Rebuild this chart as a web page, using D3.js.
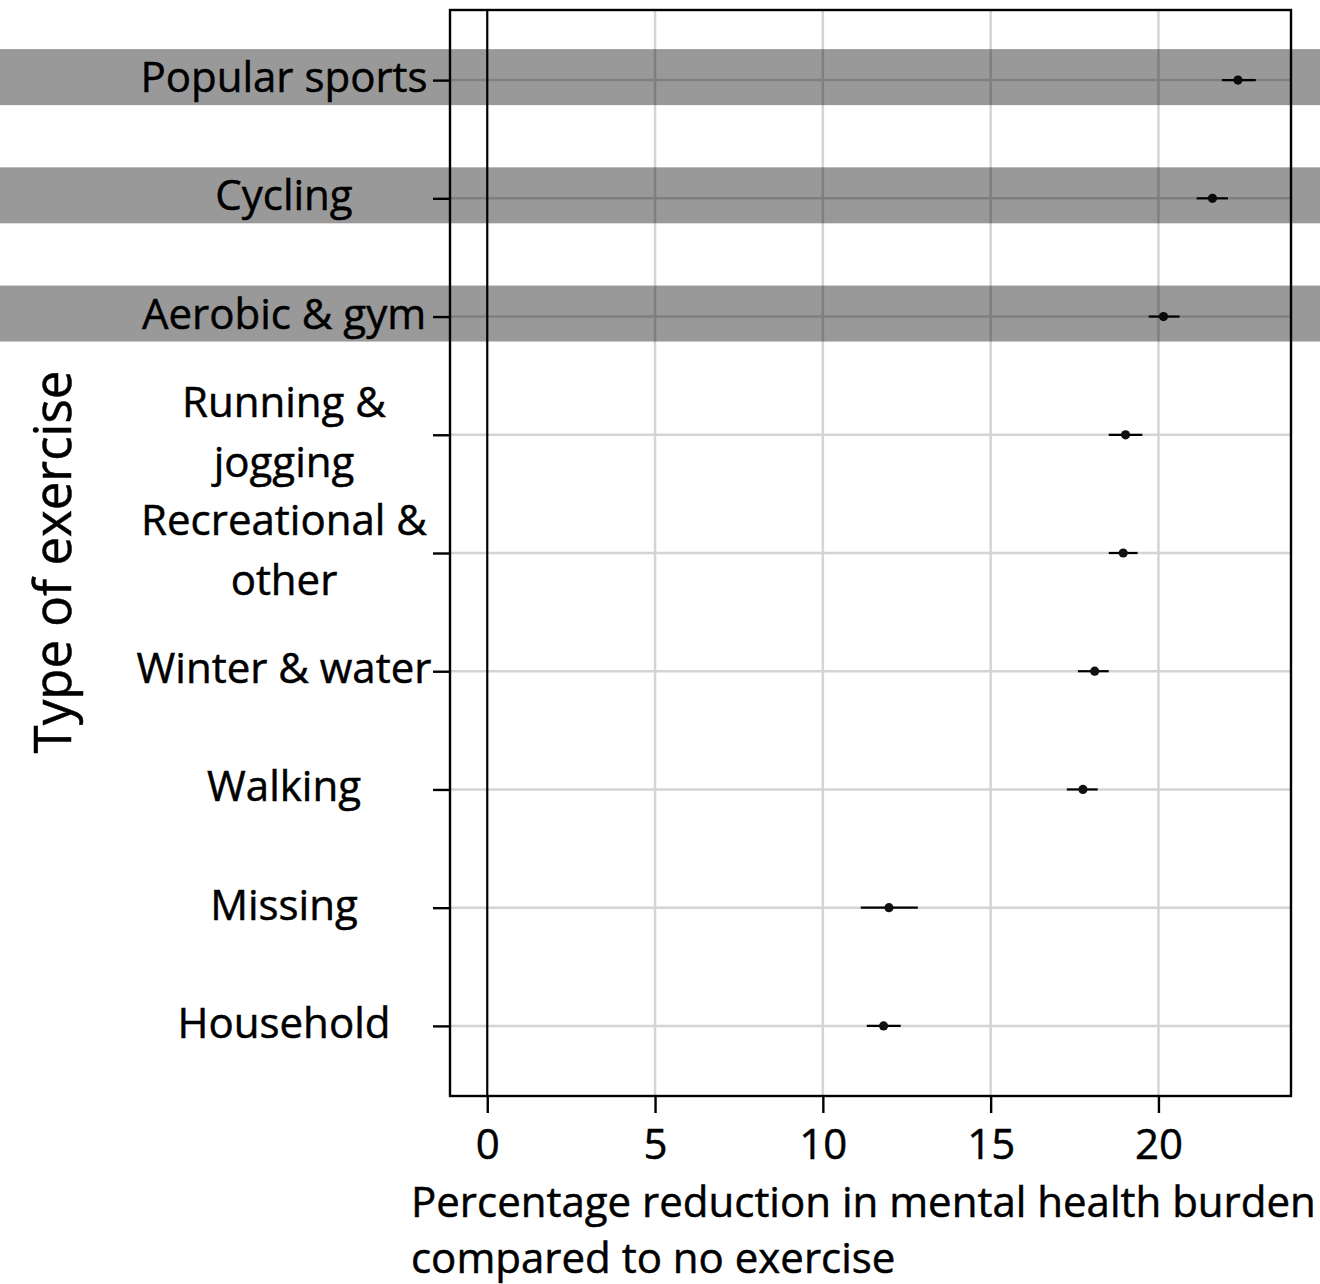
<!DOCTYPE html>
<html>
<head>
<meta charset="utf-8">
<script src="https://cdn.jsdelivr.net/npm/d3@7"></script>
<style>
  html, body { margin: 0; padding: 0; background: #fff; }
  svg { display: block; }
  text { font-family: "Open Sans", "Noto Sans", sans-serif; fill: #000; stroke: #000; stroke-width: 0.5px; }
</style>
</head>
<body>
<svg id="chart" width="1320" height="1284"></svg>
<script>
// Exercise types, top to bottom
const categories = [
  "Popular sports", "Cycling", "Aerobic & gym", "Running & jogging",
  "Recreational & other", "Winter & water", "Walking", "Missing", "Household"
];
// Wrapped label lines for each category
const labelLines = [
  ["Popular sports"], ["Cycling"], ["Aerobic & gym"], ["Running &", "jogging"],
  ["Recreational &", "other"], ["Winter & water"], ["Walking"], ["Missing"], ["Household"]
];
// Estimated percentage reduction and 95% interval
const estimate = [22.37, 21.61, 20.15, 19.02, 18.95, 18.10, 17.75, 11.97, 11.81];
const lower    = [21.89, 21.14, 19.71, 18.52, 18.52, 17.60, 17.27, 11.13, 11.31];
const upper    = [22.90, 22.07, 20.63, 19.52, 19.38, 18.52, 18.19, 12.83, 12.32];
// Categories picked out with a shaded band
const highlighted = ["Popular sports", "Cycling", "Aerobic & gym"];
const xTicks = [0, 5, 10, 15, 20];
const xTitle = ["Percentage reduction in mental health burden", "compared to no exercise"];
const yTitle = "Type of exercise";

const rows = categories.map((c, i) => ({
  cat: c, lines: labelLines[i], est: estimate[i], lo: lower[i], hi: upper[i]
}));

const svg = d3.select("#chart");
const W = 1320;
const plot = { left: 450, right: 1291, top: 10, bottom: 1096 };

const x = d3.scaleLinear().domain([-1.11, 23.95]).range([plot.left, plot.right]);
const y = d3.scalePoint().domain(categories).range([plot.top, plot.bottom]).padding(0.593);

const FS = 42;

// grid lines
const grid = svg.append("g");
grid.selectAll("line.v").data(xTicks.filter(d => d !== 0)).join("line")
  .attr("x1", d => x(d)).attr("x2", d => x(d))
  .attr("y1", plot.top).attr("y2", plot.bottom)
  .attr("stroke", "#d4d4d4").attr("stroke-width", 2.5);
grid.selectAll("line.h").data(categories).join("line")
  .attr("x1", plot.left).attr("x2", plot.right)
  .attr("y1", d => y(d)).attr("y2", d => y(d))
  .attr("stroke", "#d4d4d4").attr("stroke-width", 2.5);

// zero reference line
svg.append("line")
  .attr("x1", x(0)).attr("x2", x(0)).attr("y1", plot.top).attr("y2", plot.bottom)
  .attr("stroke", "#000").attr("stroke-width", 2.2);

// interval bars and point estimates
const marks = svg.append("g");
marks.selectAll("line").data(rows).join("line")
  .attr("x1", d => x(d.lo)).attr("x2", d => x(d.hi))
  .attr("y1", d => y(d.cat)).attr("y2", d => y(d.cat))
  .attr("stroke", "#000").attr("stroke-width", 2.2);
marks.selectAll("circle").data(rows).join("circle")
  .attr("cx", d => x(d.est)).attr("cy", d => y(d.cat)).attr("r", 4.6)
  .attr("fill", "#111");

// panel frame
svg.append("rect")
  .attr("x", plot.left).attr("y", plot.top)
  .attr("width", plot.right - plot.left).attr("height", plot.bottom - plot.top)
  .attr("fill", "none").attr("stroke", "#000").attr("stroke-width", 2.4);

// x axis
const xAxis = d3.axisBottom(x).tickValues(xTicks).tickSize(17).tickPadding(16).tickFormat(d3.format("d"));
const gx = svg.append("g").attr("transform", `translate(0,${plot.bottom})`).call(xAxis);
gx.select(".domain").remove();
gx.selectAll(".tick line").attr("stroke", "#000").attr("stroke-width", 2.4);
gx.selectAll(".tick text").attr("font-size", FS).attr("font-family", null).attr("fill", "#000")
  .attr("dy", "0.71em");

// y axis ticks
const yAxis = d3.axisLeft(y).tickSize(17).tickFormat("");
const gy = svg.append("g").attr("transform", `translate(${plot.left},0)`).call(yAxis);
gy.select(".domain").remove();
gy.selectAll(".tick line").attr("stroke", "#000").attr("stroke-width", 2.4);

// category labels, centred
const labelX = 284;
const lineGap = 60;
const lab = svg.append("g").attr("font-size", FS).attr("text-anchor", "middle");
rows.forEach(d => {
  const n = d.lines.length;
  d.lines.forEach((t, j) => {
    lab.append("text")
      .attr("x", labelX)
      .attr("y", y(d.cat) + 12 + (j - (n - 1) / 2) * lineGap)
      .text(t);
  });
});

// axis titles
svg.append("g").attr("font-size", FS)
  .selectAll("text").data(xTitle).join("text")
  .attr("x", 411).attr("y", (d, i) => 1217 + i * 56)
  .text(d => d);
svg.append("text")
  .attr("font-size", 51).attr("text-anchor", "middle")
  .attr("transform", `translate(71,${(plot.top + plot.bottom) / 2 + 9}) rotate(-90)`)
  .text(yTitle);

// translucent bands over the highlighted rows
svg.append("g").selectAll("rect").data(highlighted).join("rect")
  .attr("x", 0).attr("width", W)
  .attr("y", d => y(d) - 31).attr("height", 56)
  .attr("fill", "#000").attr("fill-opacity", 0.4);
</script>
</body>
</html>
